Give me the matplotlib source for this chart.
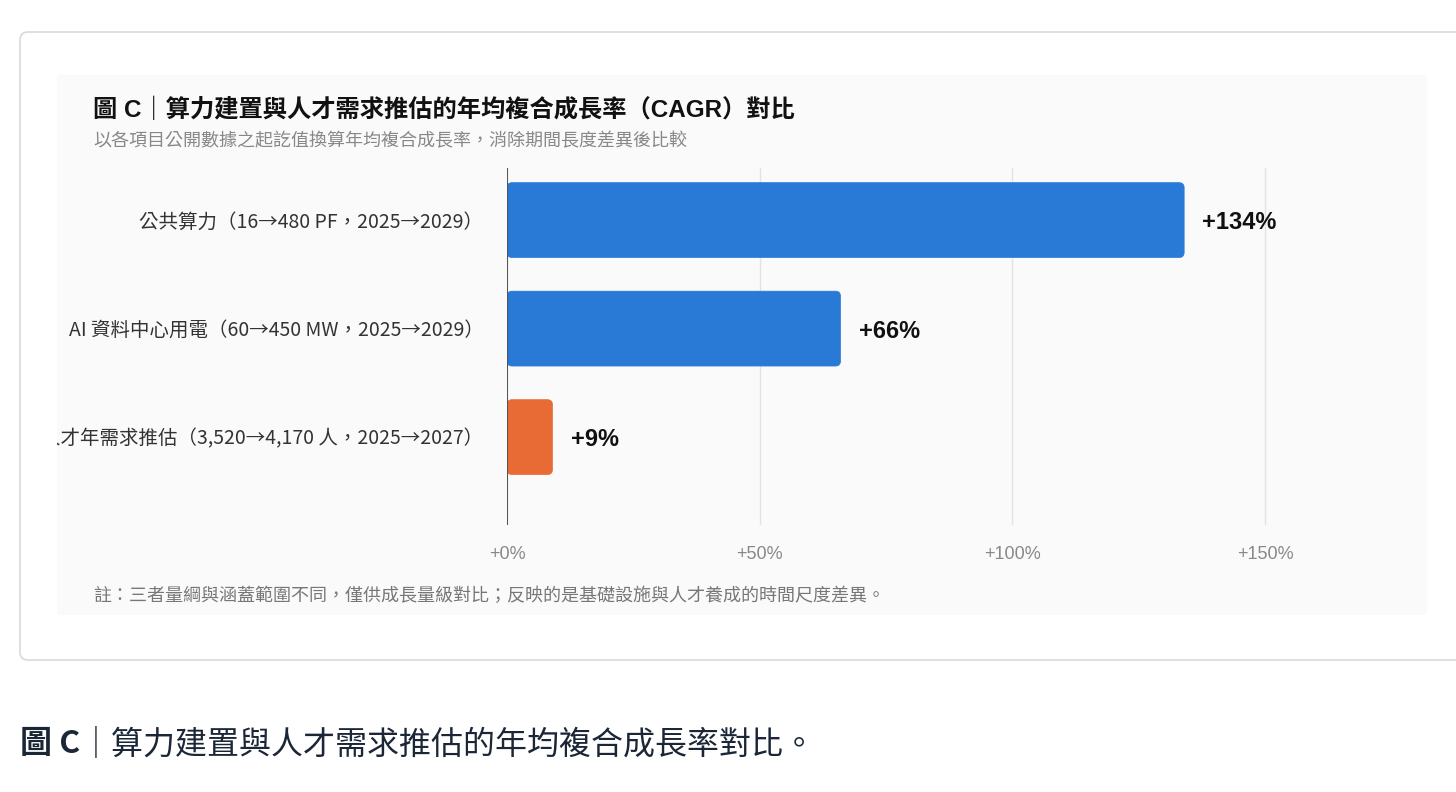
import matplotlib
matplotlib.use("Agg")
import matplotlib.pyplot as plt
from matplotlib.patches import FancyBboxPatch
from matplotlib.transforms import ScaledTranslation, Bbox, TransformedBbox

# ---- data ----
categories = [
    "公共算力（16→480 PF，2025→2029）",
    "AI 資料中心用電（60→450 MW，2025→2029）",
    "人才年需求推估（3,520→4,170 人，2025→2027）",
]
cagr = [134, 66, 9]
bar_colors = ["#2979d6", "#2979d6", "#e86a35"]
xticks = [0, 50, 100, 150]
xtick_labels = ["+0%", "+50%", "+100%", "+150%"]

title = "圖 C｜算力建置與人才需求推估的年均複合成長率（CAGR）對比"
subtitle = "以各項目公開數據之起訖值換算年均複合成長率，消除期間長度差異後比較"
footnote = "註：三者量綱與涵蓋範圍不同，僅供成長量級對比；反映的是基礎設施與人才養成的時間尺度差異。"
caption_bold = "圖 C"
caption_rest = "｜算力建置與人才需求推估的年均複合成長率對比。"

LAT = ["Liberation Sans", "Noto Sans CJK TC", "DejaVu Sans"]
CJK = ["Noto Sans CJK TC", "DejaVu Sans"]

W, H = 1456, 792
fig = plt.figure(figsize=(W / 100, H / 100), dpi=100)
fig.patch.set_facecolor("white")

# background axes in pixel coordinates
bg = fig.add_axes([0, 0, 1, 1])
bg.set_xlim(0, W)
bg.set_ylim(H, 0)
bg.axis("off")

card = FancyBboxPatch((20, 32), 1480, 628, boxstyle="round,pad=0,rounding_size=8",
                      facecolor="white", edgecolor="#dcdcdc", linewidth=1.3)
bg.add_patch(card)
panel_box = [57, 75, 1370, 540]
panel = FancyBboxPatch(panel_box[:2], panel_box[2], panel_box[3],
                       boxstyle="round,pad=0,rounding_size=4",
                       facecolor="#fafafa", edgecolor="none")
bg.add_patch(panel)
panel_clip = TransformedBbox(
    Bbox.from_bounds(panel_box[0], panel_box[1], panel_box[2], panel_box[3]),
    bg.transData)

bg.text(93, 110, title, fontsize=17.5, fontweight="bold", color="#111111",
        family=LAT, va="center", ha="left")
bg.text(93, 141, subtitle, fontsize=13, color="#888888", family=CJK,
        va="center", ha="left")
bg.text(93, 596, footnote, fontsize=13, color="#777777", family=CJK,
        va="center", ha="left")

t1 = bg.text(20, 744, caption_bold, fontsize=23, fontweight="bold", color="#1b2636",
             family=CJK, va="center", ha="left")
bg.annotate(caption_rest, xy=(1, 0.5), xycoords=t1, va="center", ha="left",
            fontsize=23, color="#1b2636", family=CJK)

# main chart axes
x0, px_per = 507, (1265 - 507) / 150
xmax = 160
ax = fig.add_axes([x0 / W, 1 - 525 / H, xmax * px_per / W, (525 - 168) / H])
ax.set_facecolor("none")
ax.set_xlim(0, xmax)
ax.set_ylim(2.81, -0.48)

for s in ax.spines.values():
    s.set_visible(False)
for xt in xticks[1:]:
    ax.axvline(xt, color="#e3e3e3", linewidth=1, zorder=0)
ax.axvline(0, color="#555555", linewidth=1.5, zorder=3)

bh = 0.69
ypx = (525 - 168) / (2.81 + 0.48)
label_tr = ax.transData + ScaledTranslation(-17 / 72, -1.5 / 72, fig.dpi_scale_trans)
for i, (v, c) in enumerate(zip(cagr, bar_colors)):
    p = FancyBboxPatch((0, i - bh / 2), v, bh,
                       boxstyle="round,pad=0,rounding_size=1.0",
                       mutation_aspect=px_per / ypx,
                       facecolor=c, edgecolor=c, linewidth=0.5, zorder=2)
    ax.add_patch(p)
    ax.annotate(f"+{v}%", xy=(v, i), xytext=(13, -2), textcoords="offset points",
                va="center", ha="left", fontsize=17, fontweight="bold",
                color="#111111", family=LAT)
    # category label, clipped to the grey panel like the original
    lbl = bg.text(0, i, categories[i], transform=label_tr, ha="right", va="center",
                  fontsize=14, color="#333333", family=CJK, zorder=5)
    lbl.set_clip_on(True)
    lbl.set_clip_box(panel_clip)

ax.set_xticks(xticks)
ax.set_xticklabels(xtick_labels, family=LAT, fontsize=13, color="#888888")
ax.tick_params(axis="x", length=0, pad=15)
ax.set_yticks([])

fig.savefig("out.png", dpi=100, facecolor="white")
